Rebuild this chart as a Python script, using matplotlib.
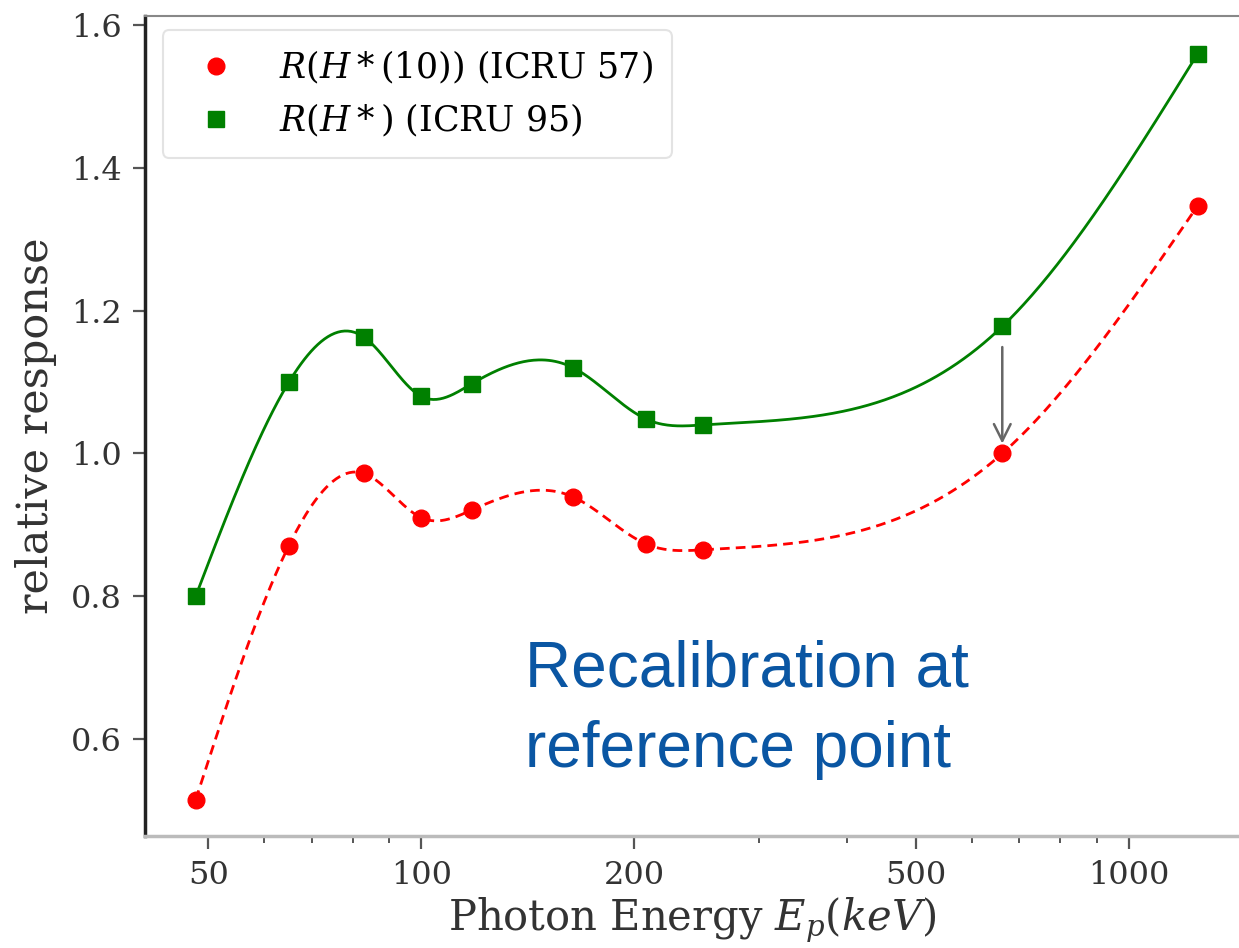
import numpy as np
import matplotlib
matplotlib.use("Agg")
import matplotlib.pyplot as plt
from matplotlib.ticker import FixedLocator, NullFormatter

# photon energies (keV) and relative responses
energy = [48, 65, 83, 100, 118, 164, 208, 250, 662, 1250]
resp_icru57 = [0.515, 0.871, 0.972, 0.910, 0.921, 0.939, 0.873, 0.865, 1.000, 1.347]
resp_icru95 = [0.800, 1.100, 1.163, 1.080, 1.098, 1.120, 1.048, 1.040, 1.178, 1.560]

label_57 = r'$R(H*(10))$ (ICRU 57)'
label_95 = r'$R(H*)$ (ICRU 95)'
note = 'Recalibration at\nreference point'
major_ticks = [50, 100, 200, 500, 1000]
minor_ticks = [60, 70, 80, 90, 300, 400, 600, 700, 800, 900]


def natural_spline(x, y, xs):
    # plain natural cubic spline, enough to draw the smooth guide curves
    x = np.asarray(x, float)
    y = np.asarray(y, float)
    n = len(x)
    h = np.diff(x)
    A = np.zeros((n, n))
    b = np.zeros(n)
    A[0, 0] = A[-1, -1] = 1
    for i in range(1, n - 1):
        A[i, i - 1] = h[i - 1]
        A[i, i] = 2 * (h[i - 1] + h[i])
        A[i, i + 1] = h[i]
        b[i] = 3 * ((y[i + 1] - y[i]) / h[i] - (y[i] - y[i - 1]) / h[i - 1])
    c = np.linalg.solve(A, b)
    k = np.clip(np.searchsorted(x, xs) - 1, 0, n - 2)
    dx = xs - x[k]
    bb = (y[k + 1] - y[k]) / h[k] - h[k] * (2 * c[k] + c[k + 1]) / 3
    d = (c[k + 1] - c[k]) / (3 * h[k])
    return y[k] + bb * dx + c[k] * dx ** 2 + d * dx ** 3


lx = np.log10(energy)
xs = np.linspace(lx[0], lx[-1], 600)
fine_e = 10 ** xs

plt.rcParams['font.family'] = 'DejaVu Serif'
plt.rcParams['mathtext.fontset'] = 'dejavuserif'

fig = plt.figure(figsize=(12.39, 9.48), dpi=100)
ax = fig.add_axes([145 / 1239, 112 / 948, 1.0 - 145 / 1239, 820 / 948])

ax.plot(fine_e, natural_spline(lx, resp_icru95, xs), color='green', lw=2.0)
ax.plot(fine_e, natural_spline(lx, resp_icru57, xs), color='red', lw=2.0, ls=(0, (3.5, 2.2)))
ax.plot(energy, resp_icru57, 'o', color='red', ms=12, label=label_57)
ax.plot(energy, resp_icru95, 's', color='green', ms=11.5, label=label_95)

ax.annotate('', xy=(662, 1.010), xytext=(662, 1.153),
            arrowprops=dict(arrowstyle='->', color='#666666', lw=1.8, mutation_scale=30))

ax.text(0.347, 0.24, note, transform=ax.transAxes, ha='left', va='top',
        fontsize=46, color='#0a56a3', family='Liberation Sans', linespacing=1.45)

ax.set_xscale('log')
ax.set_xlim(40.7, 1430)
ax.set_ylim(0.464, 1.613)
ax.xaxis.set_major_locator(FixedLocator(major_ticks))
ax.xaxis.set_minor_locator(FixedLocator(minor_ticks))
ax.xaxis.set_minor_formatter(NullFormatter())
ax.set_xticklabels([str(t) for t in major_ticks])
ax.set_yticks([0.6, 0.8, 1.0, 1.2, 1.4, 1.6])
ax.set_yticklabels(['0.6', '0.8', '1.0', '1.2', '1.4', '1.6'])

ax.tick_params(axis='both', which='major', labelsize=23, length=9, width=1.6,
               color='#555555', labelcolor='#333333', pad=8)
ax.tick_params(axis='x', which='minor', length=5, width=1.4, color='#555555')

ax.set_xlabel(r'Photon Energy $E_p(keV)$', fontsize=30, color='#333333', labelpad=4)
ax.set_ylabel('relative response', fontsize=31, color='#333333', labelpad=10)

ax.spines['right'].set_visible(False)
ax.spines['left'].set_color('#222222')
ax.spines['left'].set_linewidth(2.5)
ax.spines['top'].set_color('#888888')
ax.spines['top'].set_linewidth(1.5)
ax.spines['bottom'].set_color('#bbbbbb')
ax.spines['bottom'].set_linewidth(2.5)

leg = ax.legend(loc='upper left', fontsize=25, frameon=True, borderpad=0.55,
                handletextpad=0.8, labelspacing=0.45, borderaxespad=0,
                bbox_to_anchor=(0.016, 0.983))
leg.get_frame().set_edgecolor('#dddddd')
leg.get_frame().set_linewidth(1.5)

fig.savefig('out.png', dpi=100)
